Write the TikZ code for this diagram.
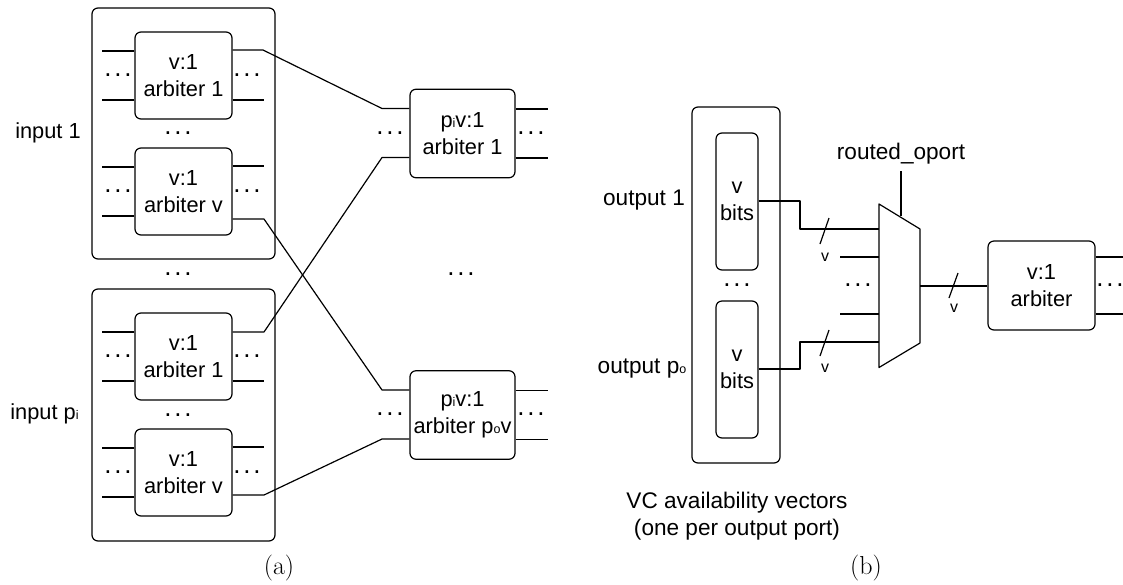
\documentclass[tikz,border=0pt]{standalone}
\usepackage{fontspec}
\setmainfont{Liberation Sans}
\newfontfamily\capfont{Latin Modern Roman}
\newcommand{\sm}[1]{{\fontsize{12.5}{12.5}\selectfont #1}}
\newcommand{\dd}{.\kern2.8pt.\kern2.8pt.}
\newcommand{\lstub}[3]{\draw[wire] (#1.west) ++(0,#2) -- ++(-#3,0);}
\newcommand{\rstub}[3]{\draw[wire] (#1.east) ++(0,#2) -- ++(#3,0);}
\tikzset{
  wire/.style={line width=1.2pt,line join=round},
  outerbox/.style={draw,line width=1.2pt,rounded corners=6pt,inner sep=0pt},
  arb/.style={draw,line width=1.2pt,rounded corners=6pt,inner sep=0pt,align=center,
    font=\fontsize{21.8}{27}\selectfont,minimum width=97pt,minimum height=87pt},
  parb/.style={arb,minimum width=105pt,minimum height=88.5pt},
  bitsbox/.style={arb,minimum width=42pt,minimum height=137pt},
  lab/.style={inner sep=0pt,align=center,font=\fontsize{21.8}{27.5}\selectfont},
  blab/.style={inner sep=0pt,align=center,font=\fontsize{22.6}{27.5}\selectfont},
  smalllab/.style={inner sep=0pt,font=\fontsize{16}{16}\selectfont},
  caplab/.style={inner sep=0pt,font=\capfont\fontsize{26}{26}\selectfont},
  dotsn/.style={inner sep=0pt,font=\fontsize{26}{26}\selectfont},
}
\begin{document}
\begin{tikzpicture}[x=1pt,y=-1pt]
\useasboundingbox (0,0) rectangle (1123,584);
% input groups
\node[outerbox,minimum width=183pt,minimum height=251pt] (g1) at (183.5,133.5) {};
\node[outerbox,minimum width=183pt,minimum height=252pt] (g2) at (183.5,415) {};
\node[arb] (a11) at (183.5,75.5) {v:1\\arbiter 1};
\node[arb] (a1v) at (183.5,191.5) {v:1\\arbiter v};
\node[arb] (a21) at (183.5,356.5) {v:1\\arbiter 1};
\node[arb] (a2v) at (183.5,472.5) {v:1\\arbiter v};
\node[parb] (p1) at (462.5,133.5) {p\sm{i}v:1\\arbiter 1};
\node[parb] (pn) at (462.5,415) {p\sm{i}v:1\\arbiter p\sm{o}v};
% stubs
\foreach \n in {a11,a1v,a21,a2v}{\lstub{\n}{-24.5}{32}\lstub{\n}{24.5}{32}}
\rstub{a11}{24.5}{31}
\rstub{a1v}{-25.5}{31}
\rstub{a21}{24.5}{31}
\rstub{a2v}{-25.5}{31}
\foreach \n in {p1,pn}{\rstub{\n}{-24.5}{32}\rstub{\n}{24.5}{32}}
% crossing connectors
\coordinate (k1) at (263,50);
\coordinate (k2) at (382,108.5);
\coordinate (k3) at (264,219);
\coordinate (k4) at (382,390);
\coordinate (k5) at (264,332);
\coordinate (k6) at (382,157.5);
\coordinate (k7) at (264,495);
\coordinate (k8) at (382,439);
\draw[wire] (a11.east |- k1) -- (k1) -- (k2) -- (p1.west |- k2);
\draw[wire] (a1v.east |- k3) -- (k3) -- (k4) -- (pn.west |- k4);
\draw[wire] (a21.east |- k5) -- (k5) -- (k6) -- (p1.west |- k6);
\draw[wire] (a2v.east |- k7) -- (k7) -- (k8) -- (pn.west |- k8);
% labels (a)
\node[lab] (in1) at (48,133) {input 1};
\node[lab] (inp) at (44.5,414) {input p\sm{i}};
\foreach \n/\x/\y in {d1/118/75,d2/247/75,d3/178/133,d4/118/191,d5/247/191,d6/178/274,
  d7/118/356,d8/247/356,d9/178/415,d10/118/472,d11/247/472,
  d12/390/133,d13/531/133,d14/390/414,d15/531/414,d16/461/274,
  d17/737/285,d18/858/285,d19/1110/285}
  \node[dotsn] (\n) at (\x,\y) {\dd};
% part (b)
\node[outerbox,minimum width=88pt,minimum height=356pt] (vc) at (736,285) {};
\node[bitsbox] (b1) at (737,201.5) {v\\bits};
\node[bitsbox] (b2) at (737,369.5) {v\\bits};
\node[blab] (o1) at (644,200) {output 1};
\node[blab] (op) at (642,369) {output p\sm{o}};
\coordinate (m1) at (879,204);
\coordinate (m2) at (920,229);
\coordinate (m3) at (920,343);
\coordinate (m4) at (879,367.5);
\draw[wire] (m1) -- (m2) -- (m3) -- (m4) -- cycle;
\coordinate (u1) at (800,201);
\coordinate (u2) at (800,229);
\coordinate (u3) at (800,369);
\coordinate (u4) at (800,342);
\draw[wire] (b1.east |- u1) -- (u1) -- (u2) -- (m1 |- u2);
\draw[wire] (b2.east |- u3) -- (u3) -- (u4) -- (m1 |- u4);
\coordinate (s1) at (840,257);
\coordinate (s2) at (840,314);
\draw[wire] (s1) -- (m1 |- s1);
\draw[wire] (s2) -- (m1 |- s2);
\draw[wire] (820,244) -- (829,218);
\draw[wire] (820,356) -- (829,330);
\node[smalllab] (v1) at (825,257) {v};
\node[smalllab] (v2) at (825,368) {v};
\node[blab] (ro) at (901,154) {routed\_oport};
\coordinate (r1) at (901,171);
\coordinate (r2) at (901,216);
\draw[wire] (r1) -- (r2);
\node[arb,minimum width=107pt,minimum height=89pt] (fa) at (1041.5,285.5) {v:1\\arbiter};
\coordinate (o) at (920,286);
\draw[wire] (o) -- (fa.west |- o);
\draw[wire] (949,298) -- (958,273);
\node[smalllab] (v3) at (954,308) {v};
\rstub{fa}{-28.5}{28}
\rstub{fa}{28.5}{28}
\node[blab] (cap) at (737,516) {VC availability vectors\\(one per output port)};
\node[caplab] (ca) at (279,568) {(a)};
\node[caplab] (cb) at (866,568) {(b)};
\end{tikzpicture}
\end{document}
